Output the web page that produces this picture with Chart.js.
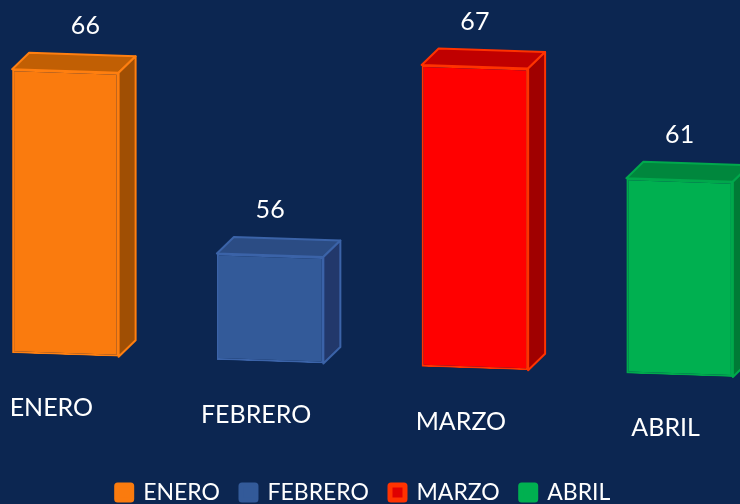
<!DOCTYPE html>
<html>
<head>
<meta charset="utf-8">
<script src="https://cdn.jsdelivr.net/npm/chart.js@4.4.1/dist/chart.umd.min.js"></script>
<style>
  html, body { margin: 0; padding: 0; background: #0c2651; overflow: hidden; width: 740px; height: 504px; }
  #myChart { display: block; margin-left: -55px; }
</style>
</head>
<body>
<canvas id="myChart" width="837" height="504"></canvas>
<script>
// datos
var meses = ["ENERO", "FEBRERO", "MARZO", "ABRIL"];
var valores = [66, 56, 67, 61];
var ejeMin = 50;
var ejeMax = 70;

// colores de cada cara
var colorFrente = ["#fa7b0e", "#335a99", "#ff0000", "#00b050"];
var colorTapa = ["#c15f04", "#2b4c84", "#c00000", "#00873d"];
var colorLado = ["#a04f04", "#22386b", "#a00000", "#007a36"];
var colorBorde = ["#ff7f10", "#3b63a8", "#ff3300", "#00a84c"];
var colorLeyenda = ["#fa7b0e", "#335a99", "#e00000", "#00b050"];
var bordeLeyenda = ["#fa7b0e", "#335a99", "#ff3300", "#00b050"];

var inclinacion = 0.033; // perspectiva del piso
var fondo = 17;          // profundidad del cubo
var ajusteEtiqueta = [20, 0, 0, 0];

var cubos = {
  id: "cubos",
  beforeDatasetsDraw: function (chart) {
    var ctx = chart.ctx;
    var x0 = chart.getDatasetMeta(0).data[0].x;
    ctx.save();
    ctx.transform(1, inclinacion, 0, 1, 0, -inclinacion * x0);
  },
  afterDatasetsDraw: function (chart) {
    var ctx = chart.ctx;
    var barras = chart.getDatasetMeta(0).data;
    var x0 = barras[0].x;
    barras.forEach(function (b, i) {
      var L = b.x - b.width / 2, R = b.x + b.width / 2, T = b.y, B = b.base;
      ctx.lineWidth = 2;
      ctx.lineJoin = "round";
      ctx.strokeStyle = colorBorde[i];
      // tapa
      ctx.beginPath();
      ctx.moveTo(L, T);
      ctx.lineTo(L + fondo, T - fondo);
      ctx.lineTo(R + fondo, T - fondo);
      ctx.lineTo(R, T);
      ctx.closePath();
      ctx.fillStyle = colorTapa[i];
      ctx.fill();
      ctx.stroke();
      // lado
      ctx.beginPath();
      ctx.moveTo(R, T);
      ctx.lineTo(R + fondo, T - fondo);
      ctx.lineTo(R + fondo, B - fondo);
      ctx.lineTo(R, B);
      ctx.closePath();
      ctx.fillStyle = colorLado[i];
      ctx.fill();
      ctx.stroke();
    });
    ctx.restore();

    // textos
    ctx.save();
    ctx.fillStyle = "#ffffff";
    ctx.font = "25px Lato";
    ctx.textAlign = "center";
    ctx.textBaseline = "middle";
    barras.forEach(function (b, i) {
      var dy = inclinacion * (b.x - x0);
      ctx.fillText(String(valores[i]), b.x + ajusteEtiqueta[i], b.y + dy - 45);
      ctx.fillText(meses[i], b.x - 14, b.base + dy + 53);
    });
    ctx.restore();
  }
};

Chart.defaults.font.family = "Lato";

var ctx = document.getElementById("myChart").getContext("2d");
var myChart = new Chart(ctx, {
  type: "bar",
  data: {
    labels: meses,
    datasets: [
      {
        label: "Ventas",
        data: valores,
        base: ejeMin,
        backgroundColor: colorFrente,
        borderColor: colorBorde,
        borderWidth: 2,
        borderSkipped: false,
        categoryPercentage: 1,
        barPercentage: 0.52,
      },
    ],
  },
  options: {
    responsive: false,
    animation: false,
    layout: { padding: { left: 0, right: 0, top: 0, bottom: -10 } },
    scales: {
      x: {
        grid: { display: false },
        border: { display: false },
        ticks: { display: false },
        afterFit: function (s) { s.height = 105; },
      },
      y: {
        min: ejeMin,
        max: ejeMax,
        grid: { display: false },
        border: { display: false },
        ticks: { display: false },
        afterFit: function (s) { s.width = 18; },
      },
    },
    plugins: {
      tooltip: { enabled: false },
      legend: {
        position: "bottom",
        labels: {
          color: "#ffffff",
          font: { size: 23 },
          boxWidth: 15,
          boxHeight: 15,
          padding: 21,
          generateLabels: function () {
            return meses.map(function (m, i) {
              return {
                text: m,
                fillStyle: colorLeyenda[i],
                strokeStyle: bordeLeyenda[i],
                lineWidth: 5,
                borderRadius: 1,
                fontColor: "#ffffff",
                hidden: false,
                index: i,
                datasetIndex: 0,
              };
            });
          },
        },
      },
    },
  },
  plugins: [cubos],
});
</script>
</body>
</html>
